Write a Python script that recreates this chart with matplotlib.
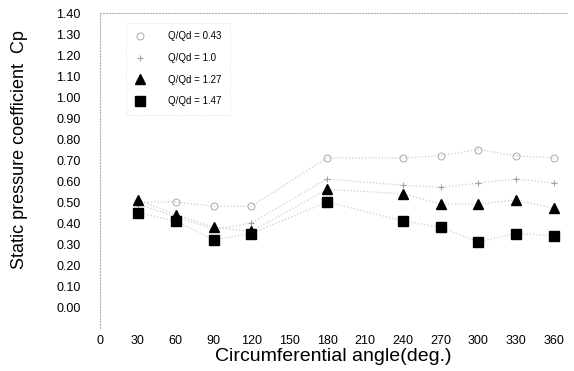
import matplotlib.pyplot as plt

plt.rcParams['font.family'] = ['Liberation Sans', 'DejaVu Sans']

# Circumferential positions of the pressure taps (deg.)
angle = [30, 60, 90, 120, 180, 240, 270, 300, 330, 360]

# Static pressure coefficient for each flow ratio
cp_043 = [0.50, 0.50, 0.48, 0.48, 0.71, 0.71, 0.72, 0.75, 0.72, 0.71]
cp_100 = [0.49, 0.43, 0.37, 0.40, 0.61, 0.58, 0.57, 0.59, 0.61, 0.59]
cp_127 = [0.51, 0.44, 0.38, 0.36, 0.56, 0.54, 0.49, 0.49, 0.51, 0.47]
cp_147 = [0.45, 0.41, 0.32, 0.35, 0.50, 0.41, 0.38, 0.31, 0.35, 0.34]

labels = ['Q/Qd = 0.43', 'Q/Qd = 1.0', 'Q/Qd = 1.27', 'Q/Qd = 1.47']
yticks = [round(0.1 * i, 2) for i in range(15)]
xticks = list(range(0, 361, 30))

fig = plt.figure(figsize=(5.74, 3.71), dpi=100)
ax = fig.add_axes([0.1742, 0.1159, 0.813, 0.849])

line_kw = dict(color='#cccccc', linestyle=':', linewidth=0.9)
ax.plot(angle, cp_043, marker='o', markersize=5, markerfacecolor='none',
        markeredgecolor='#a8a8a8', markeredgewidth=0.7, label=labels[0], **line_kw)
ax.plot(angle, cp_100, marker='+', markersize=5, markeredgecolor='#a0a0a0',
        markeredgewidth=0.8, label=labels[1], **line_kw)
ax.plot(angle, cp_127, marker='^', markersize=6.5, markerfacecolor='black',
        markeredgecolor='black', label=labels[2], **line_kw)
ax.plot(angle, cp_147, marker='s', markersize=6.5, markerfacecolor='black',
        markeredgecolor='black', label=labels[3], **line_kw)

ax.set_xlim(0, 370)
ax.set_ylim(-0.1, 1.4)
ax.set_yticks(yticks)
ax.set_yticklabels(['%.2f' % v for v in yticks])
ax.set_xticks(xticks)
ax.set_xticklabels([str(v) for v in xticks])
ax.tick_params(axis='y', length=0, pad=14, labelsize=9)
ax.tick_params(axis='x', length=0, pad=5, labelsize=9)

for side in ['right', 'bottom']:
    ax.spines[side].set_visible(False)
for side in ['left', 'top']:
    ax.spines[side].set_color('#b0b0b0')
    ax.spines[side].set_linestyle(':')
    ax.spines[side].set_linewidth(0.8)

ax.set_xlabel('Circumferential angle(deg.)', fontsize=14, labelpad=1)
ax.set_ylabel('Static pressure coefficient  Cp', fontsize=13)
ax.yaxis.set_label_coords(-0.155, 0.565)

leg = ax.legend(loc='upper left', bbox_to_anchor=(0.045, 0.985), fontsize=7,
                frameon=True, fancybox=False, handlelength=1.2, handletextpad=2.2,
                labelspacing=1.2, borderpad=0.9)
frame = leg.get_frame()
frame.set_edgecolor('#d0d0d0')
frame.set_linestyle(':')
frame.set_linewidth(0.6)
for h in leg.get_lines():
    h.set_linestyle('none')

fig.savefig('out.png', dpi=100)
